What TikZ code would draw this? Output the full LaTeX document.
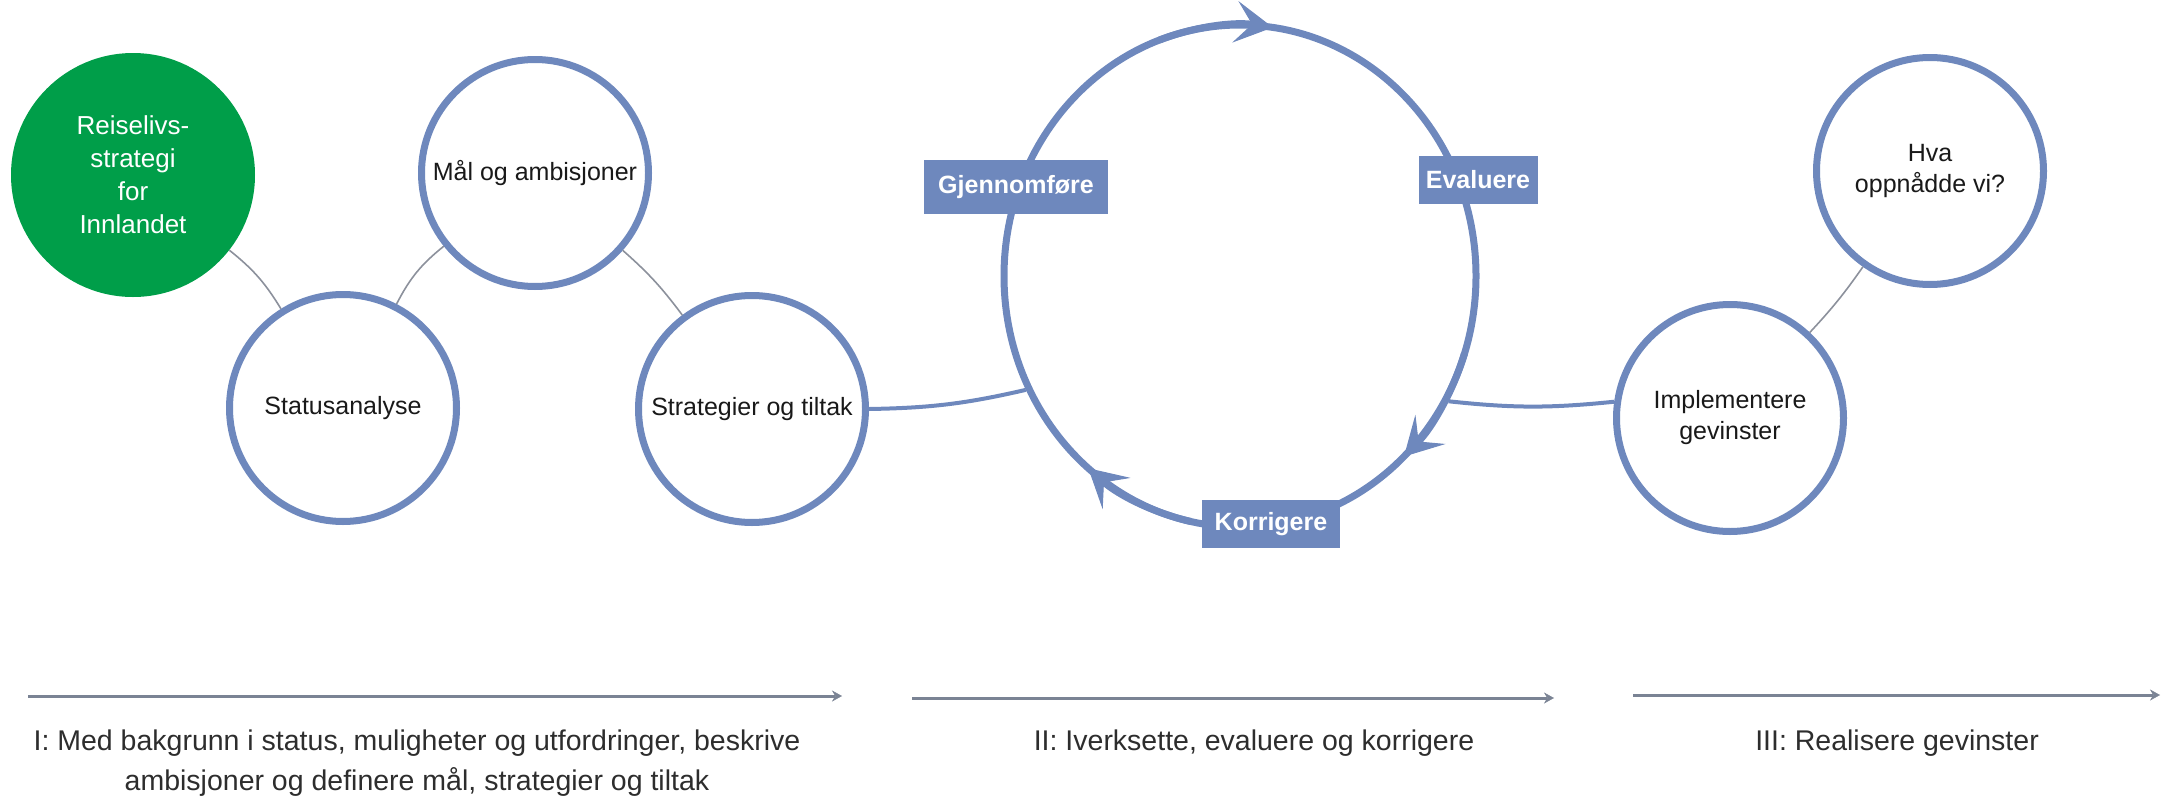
\documentclass[tikz,border=0pt]{standalone}
\usepackage{fontspec}
\setmainfont{Liberation Sans}
\usetikzlibrary{shapes.geometric,arrows.meta}
\definecolor{cblue}{RGB}{110,136,189}
\definecolor{cgreen}{RGB}{0,158,73}
\definecolor{cgrey}{RGB}{140,145,156}
\definecolor{agrey}{RGB}{122,131,148}
\definecolor{tgrey}{RGB}{45,45,45}
\begin{document}
\begin{tikzpicture}[x=1pt,y=1pt,
  ring/.style={circle, draw=cblue, line width=7pt, fill=white, minimum size=227pt, inner sep=0pt, align=center, font=\fontsize{25}{31}\selectfont, text=black!90},
  greenball/.style={circle, fill=cgreen, minimum size=244pt, inner sep=0pt, align=center, text=white, font=\fontsize{26}{33}\selectfont},
  linkthin/.style={draw=cgrey, line width=1.6pt},
  linkthick/.style={draw=cblue, line width=4pt},
  stepbox/.style={fill=cblue, text=white, font=\bfseries\fontsize{25}{30}\selectfont, inner sep=0pt, minimum height=50pt},
  cyctip/.style={draw=cblue, line width=7pt, -{Stealth[length=38pt,width=42pt,inset=17pt,line width=1pt]}},
  phase/.style={draw=agrey, line width=3pt, -{Stealth[length=10pt,width=11pt,line width=0.5pt]}},
  phasetext/.style={text=tgrey, align=center, font=\fontsize{28.5}{40}\selectfont}
]
\useasboundingbox (0,0) rectangle (2166,-798);

% cycle
\node[ellipse, draw=cblue, line width=7pt, minimum width=472pt, minimum height=502pt, inner sep=0pt] (cycle) at (1240,-276) {};
\draw[cyctip] (cycle.center) ++(110:236 and 251) arc[start angle=110, end angle=82, x radius=236, y radius=251];
\draw[cyctip] (cycle.center) ++(-18:236 and 251) arc[start angle=-18, end angle=-46, x radius=236, y radius=251];
\draw[cyctip] (cycle.center) ++(-102:236 and 251) arc[start angle=-102, end angle=-130, x radius=236, y radius=251];

\node[stepbox, minimum width=184pt, minimum height=54pt] (gj) at (1016,-187) {Gjennomføre};
\node[stepbox, minimum width=119pt, minimum height=48pt] (ev) at (1478,-180) {Evaluere};
\node[stepbox, minimum width=138pt, minimum height=48pt] (ko) at (1271,-524) {Korrigere};

% circles
\node[greenball] (reise) at (133,-175) {Reiselivs-\\strategi\\for\\Innlandet};
\node[ring] (status) at (343,-408) {Statusanalyse};
\node[ring] (maal) at (535,-173) {Mål og ambisjoner};
\node[ring] (strat) at (752,-409) {Strategier og tiltak};
\node[ring] (impl) at (1730,-418) {Implementere\\gevinster};
\node[ring] (hva) at (1930,-171) {Hva\\oppnådde vi?};

% connectors
\draw[linkthin] (reise) to[bend left=10] (status);
\draw[linkthin] (status) to[bend left=12] (maal);
\draw[linkthin] (maal) to[bend left=6] (strat);
\draw[linkthin] (impl) to[bend right=4] (hva);
\draw[linkthick] (strat.east) to[bend right=6] (cycle.208);
\draw[linkthick] (cycle.329) to[bend right=6] (impl.172);

% phases
\coordinate (p1s) at (28,-696);
\coordinate (p1e) at (842,-696);
\coordinate (p2s) at (912,-698);
\coordinate (p2e) at (1554,-698);
\coordinate (p3s) at (1633,-695);
\coordinate (p3e) at (2160,-695);
\draw[phase] (p1s) -- (p1e);
\draw[phase] (p2s) -- (p2e);
\draw[phase] (p3s) -- (p3e);
\node[phasetext] (t1) at (417,-763) {I: Med bakgrunn i status, muligheter og utfordringer, beskrive\\ambisjoner og definere mål, strategier og tiltak};
\node[phasetext] (t2) at (1254,-743) {II: Iverksette, evaluere og korrigere};
\node[phasetext] (t3) at (1897,-743) {III: Realisere gevinster};
\end{tikzpicture}
\end{document}
